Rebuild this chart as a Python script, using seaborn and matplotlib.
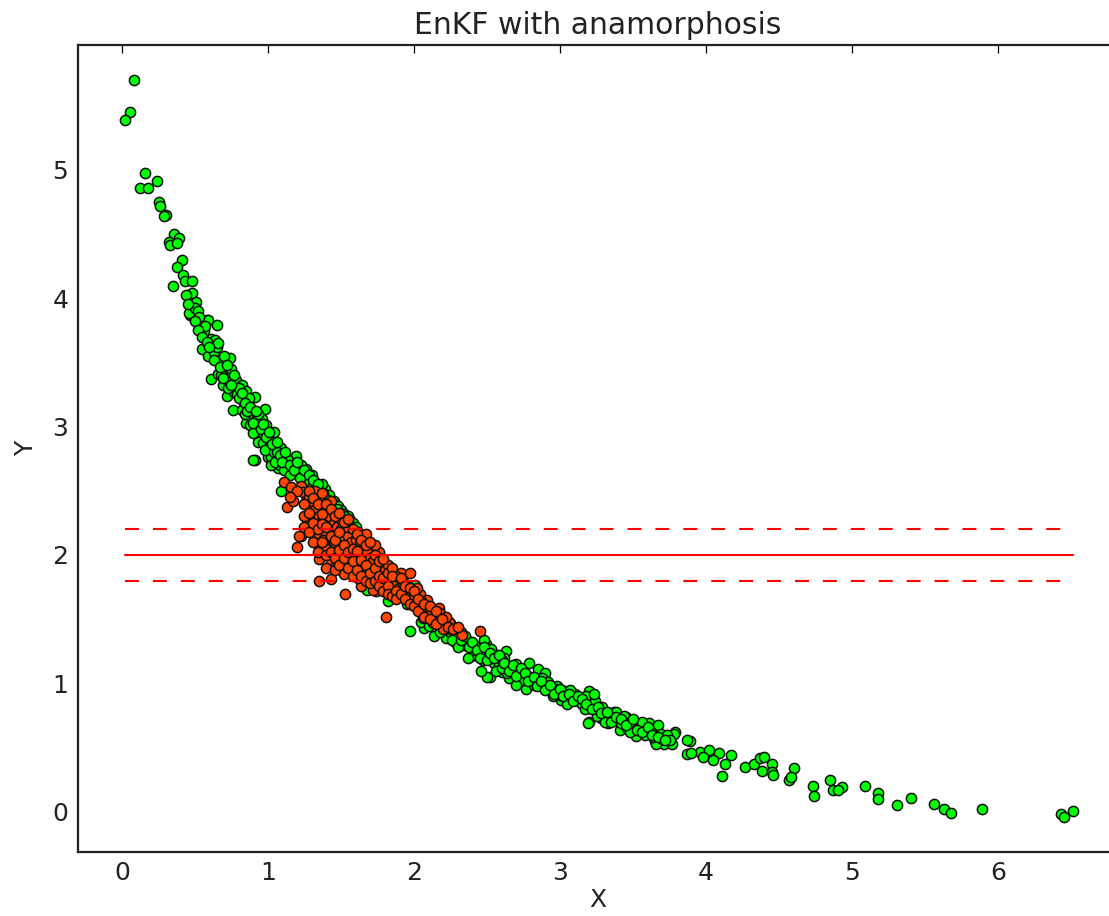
import numpy as np
import pandas as pd
import matplotlib
matplotlib.use("Agg")
import matplotlib.pyplot as plt
import seaborn as sns

# ---------------- data ----------------
prior_x = [
    0.08, 0.055, 0.02, 0.16, 0.125, 0.18, 0.24, 0.255, 0.26, 0.30, 0.29, 0.36, 0.39, 0.32, 0.33, 0.38,
    0.41, 0.38, 0.42, 0.43, 0.48, 0.35, 0.48, 0.51, 0.47, 0.49, 0.58, 0.65, 0.54, 0.46, 0.59,
    0.56, 0.61, 0.64, 0.55, 0.62, 0.59, 0.66, 0.74, 0.70, 0.61, 0.66, 0.71, 0.74, 0.69, 0.78, 0.82,
    0.85, 0.91, 0.72, 0.77, 0.76, 0.82, 0.89, 0.98, 0.85, 0.89, 0.96, 0.99, 1.04, 0.95, 0.93, 0.97,
    1.05, 0.91, 1.00, 1.08, 1.13, 1.19, 1.26,
    0.88, 0.97, 1.01, 1.09, 0.90, 1.02, 1.07, 1.13, 1.20, 1.27, 1.32, 1.39, 1.45, 1.56, 1.82, 1.68, 1.09,
    1.97, 2.07, 2.14, 2.22, 2.28, 2.36, 2.42, 2.49, 2.39, 2.49, 2.56, 2.63, 2.01,
    2.37, 2.48, 2.37, 2.44, 2.62, 2.66, 2.55, 2.52, 2.60, 2.65, 2.74, 2.79, 2.85, 2.90, 2.77, 2.85,
    2.93, 2.98, 3.03, 3.10, 3.01, 3.12, 3.20, 3.22, 3.20, 3.29, 3.20, 3.28, 3.37, 3.45, 3.33, 3.51,
    3.33, 3.38, 3.44, 3.41, 3.46, 3.51, 3.52, 3.57, 3.61, 3.67, 3.65, 3.69, 3.71, 3.77, 3.79, 3.78,
    3.66, 3.89, 3.87, 3.96, 4.02, 4.09, 4.17, 3.98, 4.05, 4.13, 4.11, 4.27, 4.33, 4.37, 4.40, 4.38,
    4.45, 4.45, 4.46, 4.60, 4.57, 4.58, 4.73, 4.74, 4.85, 4.87, 4.93, 4.90, 5.09, 5.18, 5.18, 5.31,
    5.40, 5.56, 5.63, 5.68, 5.89, 6.43, 6.45, 6.51, 3.87, 3.90, 3.19, 2.50,
    0.44, 0.50, 0.52, 0.45, 0.53, 0.57, 0.50,
    0.63, 0.65, 0.68, 0.68, 0.72, 0.73, 0.75, 0.79, 0.80, 0.66, 0.70,
    0.83, 0.86, 0.87, 0.88, 0.92, 0.93, 0.94, 0.97, 0.84, 0.90, 1.00, 0.98,
    1.02, 1.04, 1.06, 1.08, 1.10, 1.11, 1.14, 1.15, 1.17, 1.02, 1.05,
    1.22, 1.24, 1.25, 1.28, 1.30, 1.33, 1.35, 1.36, 1.23, 1.30, 1.37,
    1.42, 1.45, 1.48, 1.50, 1.52, 1.55, 1.58, 1.60, 1.62, 1.65, 1.68, 1.70, 1.73, 1.75, 1.78, 1.80,
    1.83, 1.86, 1.88, 1.90, 1.93, 1.95, 1.98, 2.00, 1.65, 1.75, 1.85, 1.95, 1.60, 1.50,
    2.02, 2.05, 2.08, 2.10, 2.12, 2.15, 2.18, 2.20, 2.23, 2.25, 2.28, 2.30, 2.32, 2.34, 2.05, 2.10,
    2.18, 2.26, 2.20, 2.12, 2.30,
    2.45, 2.47, 2.52, 2.53, 2.58, 2.60, 2.63, 2.68, 2.70, 2.72, 2.75, 2.78, 2.80, 2.56, 2.64, 2.46, 2.70,
    2.82, 2.87, 2.88, 2.92, 2.95, 2.97, 3.00, 3.05, 3.07, 3.08, 3.13, 3.15, 3.17, 3.05, 2.95, 3.18,
    3.24, 3.25, 3.25, 3.23,
    3.30, 3.35, 3.40, 3.42, 3.48, 3.55, 3.58, 3.62, 3.64, 3.70, 3.73, 3.75, 3.31, 3.48, 3.56,
    0.52, 0.55, 0.58, 0.60, 0.63, 0.67, 0.69, 0.72, 0.75, 0.77, 0.80, 0.82, 0.84, 0.86, 0.88, 0.90,
    0.92, 0.95, 0.97, 0.99, 1.01, 1.03, 1.06, 1.08, 1.10, 1.12, 1.15, 1.18, 1.20, 1.22, 1.25, 1.28,
    1.31, 1.34, 1.38, 1.41, 1.43, 1.47, 1.52, 1.55,
    2.22, 2.25, 2.28, 2.32, 2.35, 2.38, 2.40, 2.43, 2.45, 2.48, 2.50, 2.52, 2.55, 2.58, 2.60, 2.62,
    2.65, 2.68, 2.70, 2.73, 2.76, 2.78, 2.82, 2.84, 2.87, 2.90, 2.93, 2.96, 3.00, 3.02, 3.06, 3.09,
    3.12, 3.15, 3.18, 3.22, 3.26, 3.28, 3.32, 3.35, 3.38, 3.42, 3.45, 3.50, 3.53, 3.56, 3.60, 3.63,
    3.67, 3.72,
]
prior_y = [
    5.70, 5.45, 5.39, 4.97, 4.86, 4.86, 4.91, 4.75, 4.72, 4.65, 4.64, 4.50, 4.47, 4.44, 4.41, 4.43,
    4.30, 4.24, 4.18, 4.13, 4.13, 4.09, 4.04, 3.97, 3.87, 3.86, 3.83, 3.79, 3.80, 3.88, 3.83,
    3.74, 3.68, 3.67, 3.60, 3.61, 3.55, 3.52, 3.53, 3.46, 3.37, 3.41, 3.44, 3.36, 3.32, 3.36, 3.32,
    3.28, 3.23, 3.24, 3.27, 3.13, 3.13, 3.11, 3.14, 3.03, 3.01, 3.06, 3.01, 2.96, 2.94, 2.88, 2.87,
    2.85, 2.74, 2.76, 2.76, 2.72, 2.77, 2.67,
    3.01, 3.00, 2.84, 2.83, 2.74, 2.76, 2.68, 2.68, 2.66, 2.63, 2.57, 2.51, 2.42, 2.27, 1.64, 1.73, 2.50,
    1.41, 1.43, 1.37, 1.35, 1.32, 1.33, 1.29, 1.31, 1.21, 1.22, 1.22, 1.25, 1.77,
    1.33, 1.34, 1.20, 1.21, 1.20, 1.13, 1.16, 1.05, 1.09, 1.04, 1.09, 1.16, 1.11, 1.08, 0.96, 1.02,
    0.96, 0.98, 0.94, 0.92, 0.87, 0.86, 0.94, 0.89, 0.81, 0.82, 0.70, 0.73, 0.78, 0.74, 0.69, 0.66,
    0.75, 0.78, 0.75, 0.64, 0.65, 0.68, 0.59, 0.63, 0.69, 0.68, 0.55, 0.61, 0.53, 0.53, 0.62, 0.61,
    0.53, 0.55, 0.45, 0.47, 0.48, 0.46, 0.44, 0.43, 0.40, 0.37, 0.28, 0.35, 0.37, 0.42, 0.43, 0.32,
    0.37, 0.31, 0.29, 0.34, 0.25, 0.27, 0.20, 0.12, 0.25, 0.17, 0.19, 0.17, 0.20, 0.15, 0.10, 0.05,
    0.11, 0.06, 0.02, -0.01, 0.02, -0.02, -0.04, 0.01, 0.56, 0.46, 0.69, 1.05,
    4.02, 3.92, 3.90, 3.95, 3.85, 3.78, 3.82,
    3.58, 3.62, 3.50, 3.40, 3.38, 3.30, 3.45, 3.25, 3.30, 3.65, 3.55,
    3.20, 3.18, 3.22, 3.08, 3.05, 3.10, 3.00, 2.95, 3.10, 2.95, 2.92, 2.82,
    2.88, 2.80, 2.80, 2.70, 2.78, 2.66, 2.74, 2.62, 2.70, 2.70, 2.72,
    2.64, 2.58, 2.60, 2.57, 2.53, 2.52, 2.50, 2.46, 2.70, 2.62, 2.55,
    2.47, 2.40, 2.38, 2.35, 2.32, 2.30, 2.25, 2.22, 2.18, 2.15, 2.10, 2.06, 2.03, 2.00, 1.96, 1.93,
    1.90, 1.85, 1.82, 1.80, 1.76, 1.73, 1.70, 1.66, 2.00, 1.85, 1.72, 1.62, 2.10, 2.25,
    1.62, 1.60, 1.56, 1.55, 1.52, 1.50, 1.47, 1.45, 1.44, 1.40, 1.38, 1.36, 1.40, 1.30, 1.48, 1.45,
    1.40, 1.34, 1.52, 1.58, 1.28,
    1.25, 1.18, 1.20, 1.27, 1.15, 1.18, 1.12, 1.10, 1.15, 1.05, 1.03, 1.06, 1.02, 1.10, 1.08, 1.10, 0.99,
    0.99, 0.98, 1.04, 1.01, 0.93, 0.96, 0.91, 0.90, 0.95, 0.88, 0.89, 0.84, 0.80, 0.84, 0.90, 0.90,
    0.86, 0.79, 0.75, 0.92,
    0.76, 0.73, 0.71, 0.69, 0.70, 0.66, 0.60, 0.62, 0.58, 0.57, 0.60, 0.56, 0.70, 0.62, 0.70,
    3.75, 3.70, 3.66, 3.62, 3.52, 3.46, 3.38, 3.48, 3.32, 3.40, 3.22, 3.26, 3.18, 3.12, 3.15, 3.03,
    3.12, 2.98, 3.02, 2.92, 2.96, 2.86, 2.88, 2.78, 2.72, 2.80, 2.70, 2.66, 2.72, 2.60, 2.66, 2.62,
    2.58, 2.55, 2.48, 2.43, 2.38, 2.36, 2.30, 2.27,
    1.42, 1.47, 1.43, 1.34, 1.37, 1.28, 1.32, 1.26, 1.20, 1.28, 1.18, 1.24, 1.20, 1.22, 1.12, 1.16,
    1.10, 1.14, 1.06, 1.12, 1.08, 1.02, 1.05, 0.98, 1.02, 0.95, 0.99, 0.92, 0.96, 0.90, 0.92, 0.86,
    0.90, 0.88, 0.84, 0.80, 0.82, 0.77, 0.78, 0.70, 0.74, 0.72, 0.68, 0.72, 0.64, 0.62, 0.66, 0.60,
    0.58, 0.56,
]

update_x = [
    1.11, 1.16, 1.23, 1.13, 1.17, 1.24, 1.32, 1.26, 1.29, 1.36, 1.38, 1.43, 1.27, 1.33, 1.41, 1.48,
    1.52, 1.23, 1.20, 1.21, 1.35, 1.40, 1.47, 1.53, 1.59, 1.35, 1.43, 1.48, 1.56, 1.63, 1.71, 1.76,
    1.35, 1.43, 1.53, 1.61, 1.68, 1.76, 1.52, 1.58, 1.66, 1.73, 1.35, 1.43, 1.53, 1.64, 1.74, 1.81,
    1.67, 1.73, 1.68, 1.75, 1.84, 1.91, 1.97, 1.77, 1.87, 1.93, 1.72, 1.85, 1.97, 2.04, 2.09, 1.98,
    2.04, 2.10, 2.17, 2.06, 2.13, 2.24, 2.20, 2.33, 2.45,
    1.34, 1.30, 1.32, 1.35, 1.38, 1.40, 1.42, 1.45, 1.45, 1.47, 1.50, 1.50, 1.52, 1.55, 1.55, 1.57,
    1.58, 1.60, 1.62, 1.63, 1.65, 1.66, 1.68, 1.70, 1.70, 1.72, 1.74, 1.76, 1.78, 1.78, 1.80, 1.82,
    1.82, 1.85, 1.88, 1.88, 1.90, 1.92, 1.94, 1.96, 2.00, 2.02, 2.05, 2.08, 2.12, 2.15, 2.18, 2.22,
    1.45, 1.50, 1.40, 1.45, 1.55, 1.60, 1.62, 1.38, 1.30, 1.28, 1.20, 1.15,
    1.25, 1.25, 1.25, 1.28, 1.28, 1.28, 1.31, 1.31, 1.31, 1.34, 1.34, 1.34, 1.37, 1.37, 1.37, 1.37,
    1.40, 1.40, 1.40, 1.40, 1.43, 1.43, 1.43, 1.46, 1.46, 1.46, 1.46, 1.49, 1.49, 1.49, 1.49,
    1.52, 1.52, 1.52, 1.55, 1.55, 1.55, 1.58, 1.58, 1.58, 1.58, 1.61, 1.61, 1.61, 1.64, 1.64, 1.64,
    1.67, 1.67, 1.67, 1.70, 1.70, 1.70, 1.73, 1.73, 1.73, 1.76, 1.76, 1.76, 1.79, 1.79, 1.79,
    1.82, 1.82, 1.82, 1.85, 1.85, 1.85, 1.88, 1.88, 1.91, 1.91, 1.94, 1.94, 1.97, 1.97, 2.00, 2.00,
    2.03, 2.03, 2.07, 2.07, 2.11, 2.11, 2.15, 2.15, 2.19, 2.23, 2.27, 2.30,
]
update_y = [
    2.57, 2.53, 2.54, 2.37, 2.42, 2.49, 2.50, 2.42, 2.37, 2.45, 2.36, 2.42, 2.29, 2.27, 2.27, 2.29,
    2.24, 2.15, 2.06, 2.15, 2.16, 2.16, 2.19, 2.16, 2.19, 2.06, 2.07, 2.09, 2.07, 2.06, 2.04, 2.02,
    1.97, 1.95, 1.94, 1.95, 1.95, 1.93, 1.85, 1.88, 1.86, 1.85, 1.80, 1.81, 1.70, 1.76, 1.72, 1.52,
    2.16, 2.08, 1.94, 1.95, 1.88, 1.86, 1.86, 1.80, 1.77, 1.78, 1.73, 1.73, 1.70, 1.70, 1.65, 1.64,
    1.57, 1.59, 1.59, 1.51, 1.47, 1.48, 1.42, 1.38, 1.41,
    2.34, 2.42, 2.35, 2.30, 2.28, 2.35, 2.30, 2.25, 2.33, 2.22, 2.20, 2.28, 2.12, 2.15, 2.22, 2.10,
    2.02, 2.12, 2.00, 2.10, 2.05, 1.98, 2.02, 1.98, 1.90, 1.95, 1.88, 1.98, 1.90, 1.85, 1.88, 1.82,
    1.92, 1.80, 1.78, 1.84, 1.74, 1.80, 1.72, 1.76, 1.68, 1.74, 1.64, 1.60, 1.55, 1.52, 1.55, 1.52,
    2.10, 2.00, 2.05, 1.90, 1.98, 1.90, 1.82, 2.12, 2.20, 2.45, 2.50, 2.45,
    2.40, 2.30, 2.22, 2.50, 2.33, 2.18, 2.44, 2.25, 2.10, 2.40, 2.20, 2.02, 2.48, 2.32, 2.24, 2.10,
    2.40, 2.22, 2.00, 1.90, 2.36, 2.15, 2.02, 2.30, 2.12, 1.98, 1.88, 2.33, 2.18, 2.04, 1.92,
    2.26, 2.08, 1.98, 2.28, 2.02, 1.90, 2.20, 2.05, 1.95, 1.84, 2.16, 2.03, 1.88, 2.12, 1.96, 1.84,
    2.08, 1.92, 1.80, 2.10, 1.86, 1.78, 2.00, 1.90, 1.80, 1.95, 1.84, 1.76, 1.97, 1.82, 1.72,
    1.86, 1.76, 1.70, 1.90, 1.84, 1.68, 1.72, 1.66, 1.82, 1.70, 1.76, 1.66, 1.74, 1.62, 1.72, 1.60,
    1.66, 1.56, 1.62, 1.52, 1.60, 1.50, 1.56, 1.46, 1.50, 1.44, 1.42, 1.44,
]
assert len(prior_x) == len(prior_y) and len(update_x) == len(update_y)

obs_value = 2.0
obs_spread = 0.2
x_ticks = [0, 1, 2, 3, 4, 5, 6]
y_ticks = [0, 1, 2, 3, 4, 5]
title_text = "EnKF with anamorphosis"

# ---------------- figure ----------------
sns.set_style("white")
plt.rcParams["font.family"] = ["DejaVu Sans"]

fig = plt.figure(figsize=(11.09, 9.16), dpi=100)
ax = fig.add_axes([78 / 1109, 1 - 851.7 / 916, (1118 - 78) / 1109, (851.7 - 45) / 916])

prior = pd.DataFrame({"x": prior_x, "y": prior_y})
update = pd.DataFrame({"x": update_x, "y": update_y})

sns.scatterplot(data=prior, x="x", y="y", ax=ax, color="#00ff00", s=54,
                edgecolor="#111111", linewidth=1.1, zorder=2)
sns.scatterplot(data=update, x="x", y="y", ax=ax, color="#ff4500", s=54,
                edgecolor="#111111", linewidth=1.1, zorder=3)

all_x = prior_x + update_x
xmin, xmax = min(all_x), max(all_x)
ax.plot([xmin, xmax], [obs_value, obs_value], color="red", lw=1.5, zorder=4)
for k in (-1, 1):
    yy = obs_value + k * obs_spread
    ax.plot([xmin, xmax], [yy, yy], color="red", lw=1.5, dashes=(6.7, 6.7), zorder=4)

ax.set_xlim(-0.3, -0.3 + (1118 - 78) / 146.06)
ax.set_ylim(-0.31, 5.97)
ax.set_xticks(x_ticks)
ax.set_yticks(y_ticks)
ax.set_xticklabels([str(t) for t in x_ticks])
ax.set_yticklabels([str(t) for t in y_ticks])
ax.tick_params(direction="in", top=True, right=False, length=6, width=0.9,
               labelsize=18, pad=7, color="black", labelcolor="#222222")
for name, sp in ax.spines.items():
    sp.set_visible(name != "right")
    sp.set_linewidth(1.6)
    sp.set_color("#222222")

ax.set_xlabel("X", fontsize=18, labelpad=2, color="#222222")
ax.set_ylabel("Y", fontsize=18, labelpad=10, color="#222222")
ax.set_title(title_text, fontsize=21.5, pad=8, color="#222222")

fig.savefig("out.png", dpi=100)
